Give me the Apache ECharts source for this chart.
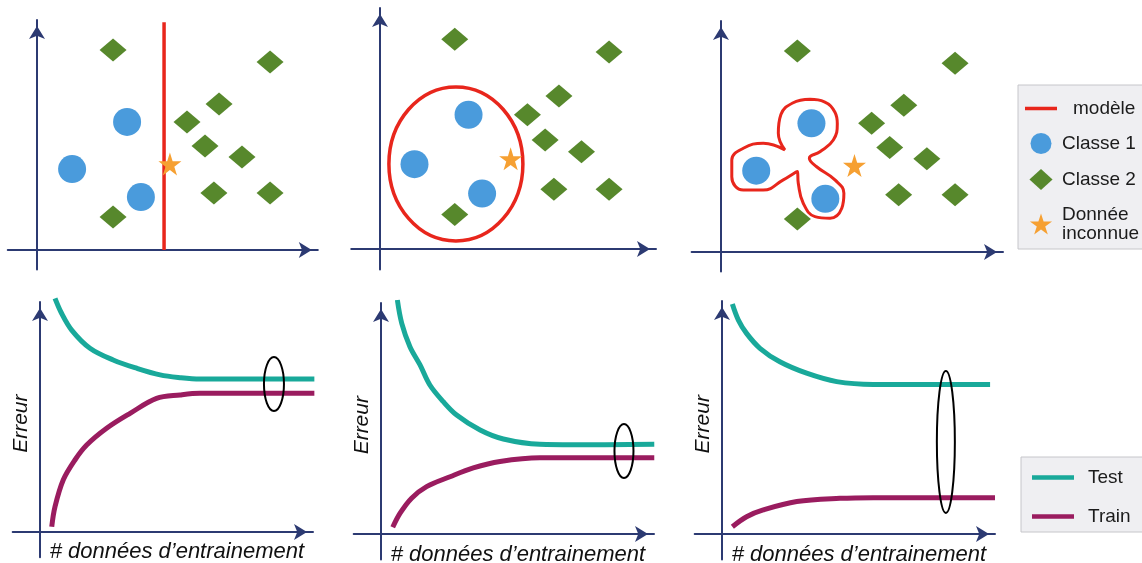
<!DOCTYPE html>
<html>
<head>
<meta charset="utf-8">
<script src="https://cdn.jsdelivr.net/npm/echarts@6/dist/echarts.min.js"></script>
<style>
html,body{margin:0;padding:0;background:#fff;}
#chart{width:1142px;height:563px;}
</style>
</head>
<body>
<div id="chart"></div>
<script>
// ---------- DATA ----------
// Top row: classification (same points in the three panels)
const classe1 = [[3.85,5.57],[1.50,3.52],[4.44,2.30]];
const classe2 = [[3.25,8.70],[9.96,8.17],[7.78,6.35],[6.41,5.57],[7.18,4.52],[8.76,4.04],[7.56,2.48],[9.96,2.48],[3.25,1.43]];
const inconnue = [[5.68,3.74]];
// models: linear boundary, ellipse, over-fitted contour
const modeleLineaire = [[5.43,0],[5.43,9.9]];
const modeleEllipseCentre = [[3.30,3.53]];
const modeleSurapprentissage = [
  [3.79,6.61],[4.40,6.50],[4.85,6.05],[4.95,5.55],[4.78,4.85],[4.21,4.34],[3.76,4.06],[4.07,3.69],
  [4.85,3.12],[5.23,2.54],[5.14,1.89],[4.64,1.46],[4.00,1.53],[3.50,2.11],[3.29,2.97],
  [3.25,3.48],[2.65,3.12],[1.80,2.68],[0.95,2.68],[0.46,3.26],[0.46,3.98],[0.95,4.49],
  [1.80,4.71],[2.72,4.42],[2.44,5.14],[2.55,5.95],[3.05,6.45],[3.79,6.61]
];
// Bottom row: learning curves
const test1  = [[0.55,10.16],[0.79,9.51],[1.16,8.78],[1.83,7.99],[2.68,7.48],[3.54,7.12],[4.40,6.83],[5.13,6.71],[5.86,6.65],[7.50,6.65],[10.05,6.65]];
const train1 = [[0.43,0.23],[0.55,1.10],[0.85,2.26],[1.28,3.13],[1.71,3.78],[2.44,4.51],[3.30,5.16],[4.27,5.81],[5.13,5.96],[5.86,6.03],[7.50,6.03],[10.05,6.03]];
const ecart1 = [[8.57,6.43]];
const test2  = [[0.60,10.13],[0.76,9.12],[1.06,8.11],[1.43,7.32],[1.79,6.45],[2.28,5.73],[2.77,5.15],[3.63,4.50],[4.48,4.11],[5.82,3.88],[7.04,3.86],[10.01,3.88]];
const train2 = [[0.43,0.29],[0.70,0.90],[1.12,1.55],[1.67,2.05],[2.53,2.48],[3.38,2.86],[4.36,3.14],[5.82,3.30],[7.50,3.30],[10.01,3.30]];
const ecart2 = [[8.90,3.59]];
const test3  = [[0.38,9.87],[0.60,9.18],[0.90,8.61],[1.39,7.97],[2.12,7.39],[3.10,6.90],[4.20,6.54],[5.54,6.42],[7.50,6.42],[9.82,6.42]];
const train3 = [[0.38,0.31],[0.90,0.74],[1.51,1.03],[2.74,1.39],[4.32,1.53],[5.54,1.56],[7.50,1.56],[10.00,1.56]];
const ecart3 = [[8.20,3.95]];

const legendHaut = ['modèle','Classe 1','Classe 2','Donnée inconnue'];
const legendBas = ['Test','Train'];
const axeX = '# données d’entrainement';
const axeY = 'Erreur';

// ---------- STYLE / LAYOUT ----------
const NAVY = '#2c3a72', RED = '#e8261c', BLUE = '#4a9bdc', GREEN = '#57882c',
      ORANGE = '#f6a032', TEAL = '#19a99a', MAROON = '#9a1c5f';
const STAR = 'path://M50,0 L61.2,34.5 L97.6,34.5 L68.2,55.9 L79.4,90.5 L50,69.1 L20.6,90.5 L31.8,55.9 L2.4,34.5 L38.8,34.5 Z';
const DIAMOND_ICON = 'path://M11,0 L22,10 L11,20 L0,10 Z';
const LINE_ICON = 'path://M0,0 L100,0 L100,11 L0,11 Z';
const FONT = 'Liberation Sans, Arial, sans-serif';

const grids = [
  {left:7.75, top:20, width:310.05, height:249.55},
  {left:351.25, top:8, width:304.75, height:261.5},
  {left:691.6, top:21, width:311.4, height:250.6},
  {left:12.7, top:302, width:300.3, height:255.3},
  {left:353.7, top:303, width:300.3, height:256.4},
  {left:694.7, top:301, width:300.3, height:258.6}
];

function axisLine(){
  return {show:true, onZero:true, symbol:['none','arrow'], symbolSize:[12,13], symbolOffset:[0,-6],
          lineStyle:{color:NAVY, width:2}};
}
const xAxis = [], yAxis = [];
grids.forEach((g,i)=>{
  const top = i < 3;
  xAxis.push({
    type:'value', gridIndex:i, min: top ? -1.25 : -1, max: top ? 12 : 10,
    axisLine: axisLine(), axisTick:{show:false}, axisLabel:{show:false}, splitLine:{show:false},
    name: top ? '' : axeX, nameLocation:'middle', nameGap:-16, nameMoveOverlap:false,
    nameTextStyle:{fontFamily:FONT, fontStyle:'italic', fontSize:22, color:'#111', padding:[0,0,0,28]}
  });
  yAxis.push({
    type:'value', gridIndex:i, min: top ? -0.85 : -1.1, max:10,
    axisLine: axisLine(), axisTick:{show:false}, axisLabel:{show:false}, splitLine:{show:false},
    name: top ? '' : axeY, nameLocation:'middle', nameGap:-19, nameRotate:90, nameMoveOverlap:false,
    nameTextStyle:{fontFamily:FONT, fontStyle:'italic', fontSize:21, color:'#111', padding:[0,0,0,12]}
  });
});

// ellipse drawn through the axis scales (uniform stroke)
function ellipseSeries(name, gi, data, size, color, width, z){
  return {
    name, type:'custom', xAxisIndex:gi, yAxisIndex:gi, data, z, silent:true,
    encode:{x:0, y:1},
    renderItem: (params, api) => {
      const p = api.coord([api.value(0), api.value(1)]);
      return {type:'ellipse', shape:{cx:p[0], cy:p[1], rx:size[0]/2, ry:size[1]/2},
              style:{fill:'none', stroke:color, lineWidth:width}};
    }
  };
}

const series = [];
series.push({name:'modèle', type:'line', xAxisIndex:0, yAxisIndex:0, data:modeleLineaire,
  symbol:'none', lineStyle:{color:RED, width:3.5}, itemStyle:{color:RED}, z:2, silent:true});
series.push(ellipseSeries('modèle', 1, modeleEllipseCentre, [134,154], RED, 3.5, 2));
series.push({name:'modèle', type:'line', xAxisIndex:2, yAxisIndex:2, data:modeleSurapprentissage,
  symbol:'none', smooth:0.45, lineStyle:{color:RED, width:3}, itemStyle:{color:RED}, z:2, silent:true});
for (let i=0;i<3;i++){
  series.push({name:'Classe 1', type:'scatter', xAxisIndex:i, yAxisIndex:i, data:classe1,
    symbol:'circle', symbolSize:28, itemStyle:{color:BLUE, opacity:1}, z:3});
  series.push({name:'Classe 2', type:'scatter', xAxisIndex:i, yAxisIndex:i, data:classe2,
    symbol:'diamond', symbolSize:[27,23], itemStyle:{color:GREEN, opacity:1}, z:3});
  series.push({name:'Donnée inconnue', type:'scatter', xAxisIndex:i, yAxisIndex:i, data:inconnue,
    symbol:STAR, symbolSize:23, itemStyle:{color:ORANGE, opacity:1}, z:4});
}
const tests = [test1,test2,test3], trains = [train1,train2,train3], ecarts = [ecart1,ecart2,ecart3];
const ecartSizes = [[20,54],[19,54],[18,142]];
for (let i=0;i<3;i++){
  const gi = i+3;
  series.push({name:'Test', type:'line', xAxisIndex:gi, yAxisIndex:gi, data:tests[i], clip:false,
    symbol:'none', smooth:0.35, lineStyle:{color:TEAL, width:5}, itemStyle:{color:TEAL}, z:2});
  series.push({name:'Train', type:'line', xAxisIndex:gi, yAxisIndex:gi, data:trains[i], clip:false,
    symbol:'none', smooth:0.35, lineStyle:{color:MAROON, width:5}, itemStyle:{color:MAROON}, z:2});
  series.push(ellipseSeries('écart', gi, ecarts[i], ecartSizes[i], '#000', 2, 5));
}

const legendText = {fontFamily:FONT, fontSize:19, color:'#1b1b1b', lineHeight:19};
const option = {
  animation:false,
  backgroundColor:'#ffffff',
  grid: grids.map(g=>Object.assign({outerBoundsMode:'none', containLabel:false}, g)),
  xAxis, yAxis, series,
  legend:[
    {
      orient:'vertical', left:1018, top:85, selectedMode:false, symbolKeepAspect:true,
      backgroundColor:'#efeff2', borderColor:'#c6c6ca', borderWidth:1, borderRadius:0,
      padding:[14,30,6,7], itemGap:15, itemWidth:32, itemHeight:21,
      textStyle:legendText,
      formatter: n => n === 'Donnée inconnue' ? 'Donnée\ninconnue' : n,
      data:[
        {name:legendHaut[0], icon:LINE_ICON, textStyle:{padding:[0,0,0,11]}},
        {name:legendHaut[1], icon:'circle'},
        {name:legendHaut[2], icon:DIAMOND_ICON},
        {name:legendHaut[3], icon:STAR}
      ]
    },
    {
      orient:'vertical', left:1021, top:457, selectedMode:false, symbolKeepAspect:true,
      backgroundColor:'#efeff2', borderColor:'#c6c6ca', borderWidth:1, borderRadius:0,
      padding:[11,40,6,11], itemGap:20, itemWidth:42, itemHeight:21,
      textStyle:Object.assign({}, legendText, {padding:[0,0,0,9]}),
      data: legendBas.map(n=>({name:n, icon:LINE_ICON}))
    }
  ]
};
const chart = echarts.init(document.getElementById('chart'), null, {renderer:'canvas'});
chart.setOption(option);
</script>
</body>
</html>
